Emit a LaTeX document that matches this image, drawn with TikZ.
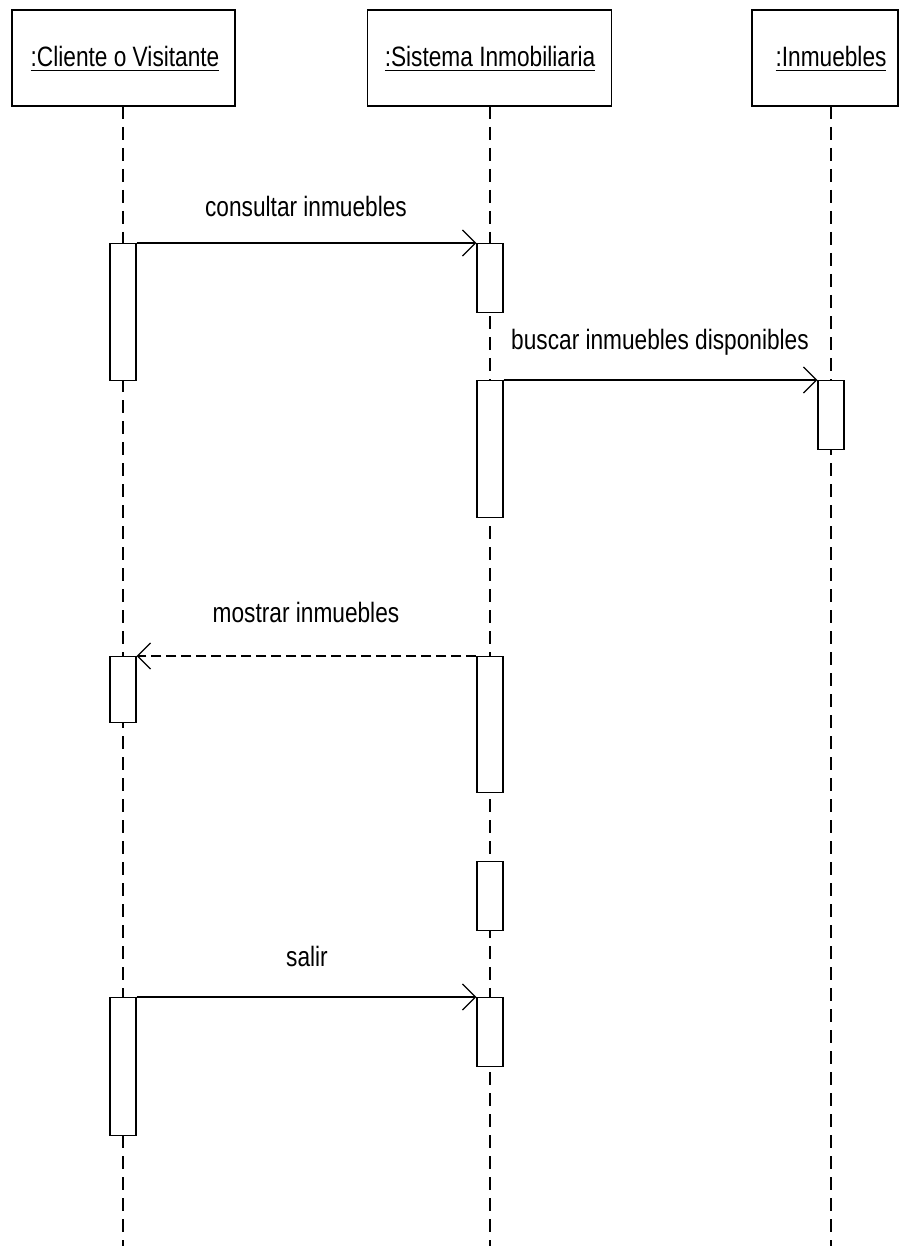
\documentclass[tikz,border=0pt]{standalone}
\usepackage{fontspec}
\setmainfont{Liberation Sans}
\newfontfamily\narrowfont[FakeStretch=0.81]{Liberation Sans}
\usetikzlibrary{arrows.meta}
\newcommand\myul[1]{\setbox0\hbox{#1}\rlap{\rule[-4.5pt]{\wd0}{1.5pt}}\box0}
\tikzset{
  hdr/.style={draw, line width=1.3pt, fill=white, inner sep=0pt},
  hdrtext/.style={inner sep=0pt, anchor=base, font=\narrowfont\fontsize{28}{32}\selectfont},
  lbl/.style={inner sep=0pt, anchor=base, font=\narrowfont\fontsize{28}{32}\selectfont},
  life/.style={line width=1.3pt, dash pattern=on 13pt off 8pt},
  act/.style={draw, line width=1.3pt, fill=white, minimum width=26pt, inner sep=0pt, anchor=north},
  msg/.style={line width=1.3pt, -{Straight Barb[length=13pt,width=26pt,line width=1.3pt]}},
  ret/.style={msg, dash pattern=on 10pt off 5pt}
}
\begin{document}
\begin{tikzpicture}[x=1pt,y=-1pt]
\useasboundingbox (0,0) rectangle (900,1246);
% header boxes
\node[hdr, minimum width=223pt, minimum height=96pt] (c) at (123.5,58) {};
\node[hdr, minimum width=244pt, minimum height=96pt] (s) at (489.5,58) {};
\node[hdr, minimum width=146pt, minimum height=96pt] (i) at (825,58) {};
\node[hdrtext] (ct) at (125,67) {\myul{:Cliente o Visitante}};
\node[hdrtext] (st) at (490,67) {\myul{:Sistema Inmobiliaria}};
\node[hdrtext] (it) at (831,67) {\myul{:Inmuebles}};
% lifeline ends
\coordinate (ce) at (123,1246);
\coordinate (se) at (490,1246);
\coordinate (ie) at (831,1246);
\coordinate (cs) at (123,106);
\coordinate (ss) at (490,106);
\coordinate (is) at (831,106);
\draw[life] (cs) -- (ce);
\draw[life] (ss) -- (se);
\draw[life] (is) -- (ie);
% activations
\node[act, minimum height=137pt] (c1) at (123,243) {};
\node[act, minimum height=66pt] (c2) at (123,656) {};
\node[act, minimum height=138pt] (c3) at (123,997) {};
\node[act, minimum height=69pt] (s1) at (490,243) {};
\node[act, minimum height=137pt] (s2) at (490,380) {};
\node[act, minimum height=136pt] (s3) at (490,656) {};
\node[act, minimum height=69pt] (s4) at (490,861) {};
\node[act, minimum height=69pt] (s5) at (490,997) {};
\node[act, minimum height=69pt] (i1) at (831,380) {};
% messages
\draw[msg] (c1.north east) -- (s1.north west);
\draw[msg] (s2.north east) -- (i1.north west);
\draw[ret] (s3.north west) -- (c2.north east);
\draw[msg] (c3.north east) -- (s5.north west);
% labels
\node[lbl] (l1) at (306,217) {consultar inmuebles};
\node[lbl] (l2) at (660,349) {buscar inmuebles disponibles};
\node[lbl] (l3) at (306,622) {mostrar inmuebles};
\node[lbl] (l4) at (307,966) {salir};
\end{tikzpicture}
\end{document}
